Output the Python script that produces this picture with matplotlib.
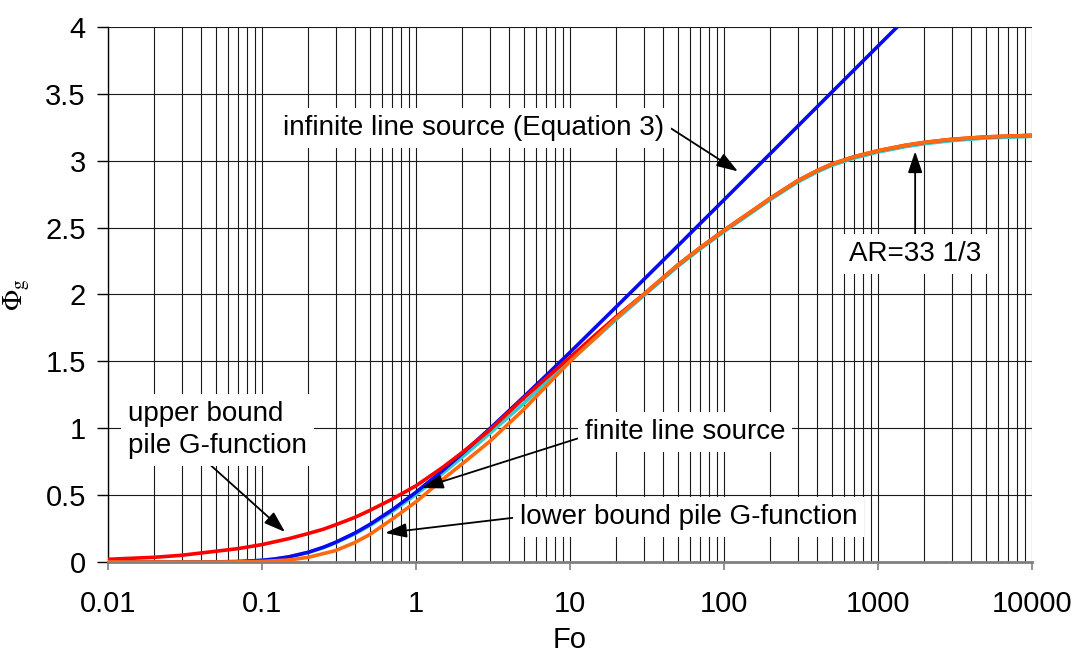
import matplotlib
matplotlib.use("Agg")
import matplotlib.pyplot as plt
from matplotlib.ticker import LogLocator, FixedLocator, NullFormatter, FixedFormatter

plt.rcParams['font.family'] = ['Liberation Sans', 'DejaVu Sans']
plt.rcParams['mathtext.fontset'] = 'stix'

# ---- data ----
fo_ils = [0.01, 0.03, 0.05, 0.07, 0.1, 0.12, 0.15, 0.2, 0.25, 0.3, 0.4, 0.5, 0.7, 1, 1.5,
          2, 3, 5, 7, 10, 20, 50, 100, 200, 500, 1000, 1500]
phi_ils = [0, 0, 0.0006, 0.003, 0.0125, 0.022, 0.039, 0.073, 0.110, 0.147, 0.216, 0.280,
           0.390, 0.522, 0.687, 0.812, 0.995, 1.234, 1.395, 1.568, 1.909, 2.363, 2.708,
           3.054, 3.512, 3.858, 4.06]

fo_fls = [0.01, 0.05, 0.07, 0.1, 0.12, 0.15, 0.2, 0.25, 0.3, 0.4, 0.5, 0.7, 1, 1.5, 2, 3,
          5, 7, 10, 15, 20, 30, 50, 70, 100, 150, 200, 300, 400, 500, 700, 1000, 1500,
          2000, 3000, 5000, 10000]
phi_fls = [0, 0.0006, 0.003, 0.012, 0.021, 0.038, 0.071, 0.107, 0.143, 0.21, 0.272,
           0.378, 0.505, 0.665, 0.785, 0.96, 1.185, 1.345, 1.505, 1.685, 1.815, 1.99, 2.21,
           2.34, 2.47, 2.61, 2.71, 2.84, 2.915, 2.965, 3.02, 3.065, 3.105, 3.127, 3.15,
           3.17, 3.182]

fo_upper = [0.01, 0.02, 0.03, 0.05, 0.07, 0.1, 0.15, 0.2, 0.25, 0.3, 0.4, 0.5, 0.7, 1, 1.5,
            2, 3, 5, 7, 10, 15, 20, 30, 50, 70, 100, 150, 200, 300, 400, 500, 700, 1000,
            1500, 2000, 3000, 5000, 10000]
phi_upper = [0.02, 0.035, 0.05, 0.08, 0.10, 0.13, 0.175, 0.213, 0.245, 0.278, 0.333,
             0.385, 0.47, 0.57, 0.71, 0.82, 0.985, 1.225, 1.375, 1.53, 1.71, 1.835, 2.0,
             2.22, 2.35, 2.48, 2.62, 2.72, 2.85, 2.925, 2.975, 3.03, 3.075, 3.115, 3.137,
             3.16, 3.178, 3.19]

fo_lower = [0.01, 0.05, 0.07, 0.1, 0.15, 0.2, 0.3, 0.4, 0.5, 0.7, 1, 1.5, 2, 3, 5, 7, 10,
            15, 20, 30, 50, 70, 100, 150, 200, 300, 400, 500, 700, 1000, 1500, 2000, 3000,
            5000, 10000]
phi_lower = [0, 0, 0.001, 0.004, 0.015, 0.035, 0.085, 0.145, 0.205, 0.32, 0.45, 0.62,
             0.735, 0.90, 1.14, 1.315, 1.50, 1.69, 1.825, 2.0, 2.22, 2.35, 2.48, 2.62, 2.72,
             2.85, 2.925, 2.975, 3.03, 3.075, 3.115, 3.137, 3.16, 3.178, 3.19]

x_ticks = [0.01, 0.1, 1, 10, 100, 1000, 10000]
x_ticklabels = ['0.01', '0.1', '1', '10', '100', '1000', '10000']
y_ticks = [0, 0.5, 1, 1.5, 2, 2.5, 3, 3.5, 4]
y_ticklabels = ['0', '0.5', '1', '1.5', '2', '2.5', '3', '3.5', '4']

# ---- figure ----
fig = plt.figure(figsize=(10.74, 6.53), dpi=100)
ax = fig.add_axes([0.1006, 0.1394, 0.8604, 0.8193])
ax.set_xscale('log')
ax.set_xlim(0.01, 10000)
ax.set_ylim(0, 4)

lw = 2.6
ax.plot(fo_fls, phi_fls, color='#33CCCC', lw=lw, zorder=3)
ax.plot(fo_ils, phi_ils, color='#0A0AF0', lw=lw, zorder=4)
ax.plot(fo_upper, phi_upper, color='#FF0000', lw=lw, zorder=5)
ax.plot(fo_lower, phi_lower, color='#FF6A10', lw=lw, zorder=6)

# grid
ax.xaxis.set_major_locator(FixedLocator(x_ticks))
ax.xaxis.set_major_formatter(FixedFormatter(x_ticklabels))
ax.xaxis.set_minor_locator(LogLocator(base=10, subs=range(2, 10), numticks=100))
ax.xaxis.set_minor_formatter(NullFormatter())
ax.yaxis.set_major_locator(FixedLocator(y_ticks))
ax.yaxis.set_major_formatter(FixedFormatter(y_ticklabels))
ax.grid(True, which='major', axis='both', color='#1a1a1a', lw=0.8, zorder=1)
ax.grid(True, which='minor', axis='x', color='#1a1a1a', lw=0.8, zorder=1)
ax.set_axisbelow(True)

for s in ['top', 'right']:
    ax.spines[s].set_visible(False)
ax.spines['left'].set_color('black')
ax.spines['left'].set_linewidth(1.0)
ax.spines['bottom'].set_color('#808080')
ax.spines['bottom'].set_linewidth(2.0)

ax.tick_params(axis='x', which='major', direction='out', length=6, width=1.2,
               color='#808080', labelsize=21, pad=14)
ax.tick_params(axis='x', which='minor', length=0)
ax.tick_params(axis='y', which='major', direction='out', length=8, width=1.0,
               color='black', labelsize=21, pad=8)

ax.set_xlabel('Fo', fontsize=21, labelpad=6)
ax.set_ylabel(r'$\Phi_{\mathrm{g}}$', fontsize=20)
ax.yaxis.set_label_coords(-0.082, 0.5)

bbox = dict(boxstyle='square,pad=0.25', fc='white', ec='none')
arrow = dict(arrowstyle='-|>,head_length=0.65,head_width=0.22', color='black', lw=1.3,
             shrinkA=0, shrinkB=0)
fs = 20

ax.annotate('infinite line source (Equation 3)', xy=(123, 2.92), xytext=(0.137, 3.245),
            fontsize=fs, va='center', ha='left', bbox=bbox,
            arrowprops=dict(arrow, relpos=(1.0, 0.65)), zorder=8)
ax.annotate('AR=33 1/3', xy=(1740, 3.07), xytext=(1740, 2.30), fontsize=fs,
            va='center', ha='center', bbox=bbox,
            arrowprops=dict(arrow, relpos=(0.5, 1.0)), zorder=8)
ax.annotate('upper bound\npile G-function', xy=(0.141, 0.224), xytext=(0.0135, 0.99),
            fontsize=fs, va='center', ha='left', bbox=bbox, linespacing=1.3,
            arrowprops=dict(arrow, relpos=(0.42, 0.0)), zorder=8)
ax.annotate('finite line source', xy=(1.09, 0.553), xytext=(12.5, 0.97), fontsize=fs,
            va='center', ha='left', bbox=bbox,
            arrowprops=dict(arrow, relpos=(0.0, 0.35)), zorder=8)
ax.annotate('lower bound pile G-function', xy=(0.63, 0.217), xytext=(4.7, 0.336),
            fontsize=fs, va='center', ha='left', bbox=bbox,
            arrowprops=dict(arrow, relpos=(0.0, 0.5)), zorder=8)

fig.savefig('out.png', dpi=100)
